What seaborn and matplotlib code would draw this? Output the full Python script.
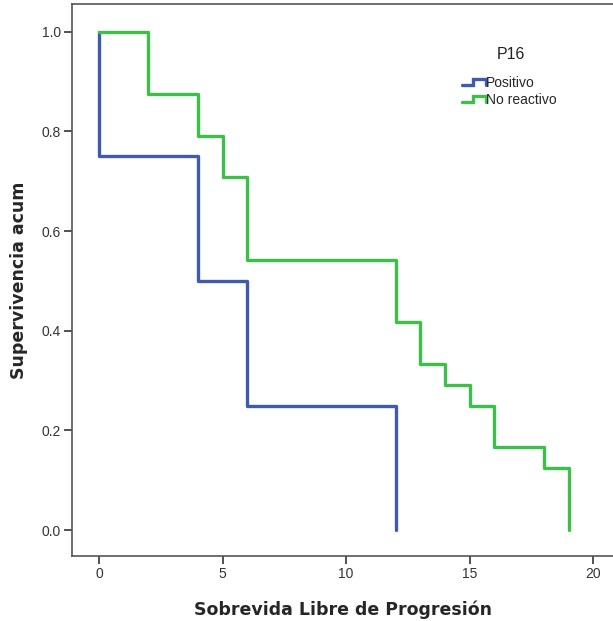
import matplotlib
matplotlib.use("Agg")
import matplotlib.pyplot as plt
from matplotlib.legend_handler import HandlerLine2D
from matplotlib.lines import Line2D
import seaborn as sns
import pandas as pd

# Kaplan-Meier steps (time, cumulative survival)
pos_time = [0, 0, 4, 6, 12]
pos_surv = [1.0, 0.75, 0.5, 0.25, 0.0]
nr_time = [0, 2, 4, 5, 6, 12, 13, 14, 15, 16, 18, 19]
nr_surv = [1.0, 0.875, 0.7917, 0.7083, 0.5417, 0.4167, 0.3333, 0.2917, 0.25, 0.1667, 0.125, 0.0]
groups = ["Positivo", "No reactivo"]
colors = ["#3f5bb0", "#3dc04a"]


def steps(t, s):
    xs, ys = [t[0]], [s[0]]
    for i in range(1, len(t)):
        xs += [t[i], t[i]]
        ys += [s[i - 1], s[i]]
    return xs, ys


rows = []
for g, (t, s) in zip(groups, [(pos_time, pos_surv), (nr_time, nr_surv)]):
    xs, ys = steps(t, s)
    for x, y in zip(xs, ys):
        rows.append({"t": x, "s": y, "P16": g})
df = pd.DataFrame(rows)

sns.set_style("white")
plt.rcParams["font.family"] = ["Liberation Sans", "DejaVu Sans"]

fig = plt.figure(figsize=(6.13, 6.21), dpi=100)
ax = fig.add_axes([0.1175, 0.1047, 0.8825, 0.889])

sns.lineplot(data=df, x="t", y="s", hue="P16", estimator=None, sort=False,
             palette=colors, linewidth=2.4, legend=False, ax=ax)

ax.set_xlim(-1.09, 20.8)
ax.set_ylim(-0.052, 1.056)
ax.set_xticks([0, 5, 10, 15, 20])
ax.set_yticks([0.0, 0.2, 0.4, 0.6, 0.8, 1.0])
ax.set_yticklabels(["0.0", "0.2", "0.4", "0.6", "0.8", "1.0"])
ax.tick_params(axis="both", direction="out", length=6, width=1.2, color="#333333",
               labelsize=10, labelcolor="#333333", left=True, bottom=True, pad=2)
for side in ["left", "bottom", "top"]:
    ax.spines[side].set_color("#555555")
    ax.spines[side].set_linewidth(1.2)
ax.spines["right"].set_visible(False)

ax.set_xlabel("Sobrevida Libre de Progresión", fontsize=12.5, fontweight="bold",
              family=["DejaVu Sans"], labelpad=14)
ax.set_ylabel("Supervivencia acum", fontsize=12.5, fontweight="bold",
              family=["DejaVu Sans"], labelpad=10)


class StepHandler(HandlerLine2D):
    def create_artists(self, legend, orig_handle, xdescent, ydescent, width,
                       height, fontsize, trans):
        w, h = width, height
        xs = [-xdescent, -xdescent + w * 0.45, -xdescent + w * 0.45,
              -xdescent + w, -xdescent + w]
        ys = [-ydescent + h * 0.2, -ydescent + h * 0.2, -ydescent + h * 0.8,
              -ydescent + h * 0.8, -ydescent + h * 0.2]
        ln = Line2D(xs, ys, color=orig_handle.get_color(), linewidth=2.4,
                    solid_joinstyle="miter")
        ln.set_transform(trans)
        return [ln]


ax.text(0.811, 0.9076, "P16", transform=ax.transAxes, ha="center", va="center",
        fontsize=11.5, color="#222222")

handles = [Line2D([], [], color=c) for c in colors]
leg = ax.legend(handles, groups, loc="upper left",
                bbox_to_anchor=(0.721, 0.869), frameon=False, fontsize=10,
                handlelength=1.7, handletextpad=0.05, borderaxespad=0.0,
                labelspacing=0.2, borderpad=0.0,
                handler_map={Line2D: StepHandler()})

fig.savefig("out.png", dpi=100)
